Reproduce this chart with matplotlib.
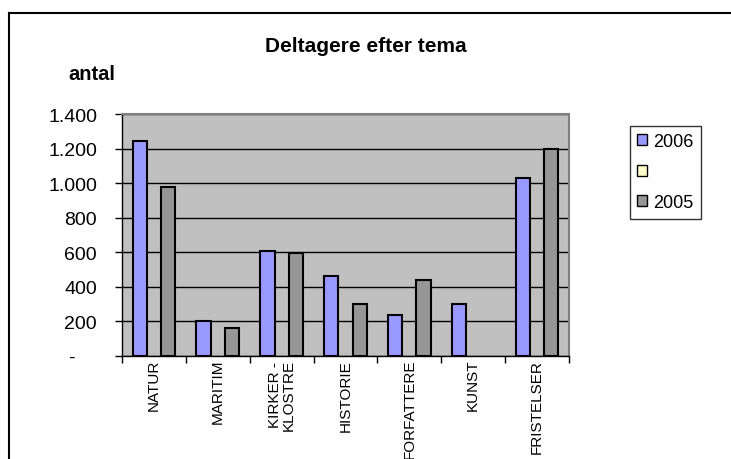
import matplotlib
matplotlib.use('Agg')
import matplotlib.pyplot as plt
import matplotlib.ticker as ticker
from matplotlib.patches import Patch
from matplotlib.lines import Line2D
import numpy as np

plt.rcParams['font.family'] = ['Liberation Sans', 'DejaVu Sans']

# data
categories = ['NATUR', 'MARITIM', 'KIRKER -\nKLOSTRE', 'HISTORIE',
              'FORFATTERE', 'KUNST', 'FRISTELSER']
series_names = ['2006', ' ', '2005']
v2006 = [1245, 205, 607, 463, 237, 300, 1030]
vblank = [0, 0, 0, 0, 0, 0, 0]
v2005 = [980, 162, 596, 300, 437, 0, 1195]
colors = ['#9999FF', '#FFFFCC', '#969696']
yticks = [0, 200, 400, 600, 800, 1000, 1200, 1400]

fig = plt.figure(figsize=(7.31, 4.60), dpi=100)
ax = fig.add_axes([122 / 731, 1 - 357 / 460, 447 / 731, 242 / 460])
ax.set_facecolor('#C0C0C0')

x = np.arange(len(categories))
w = 1 / 4.5
for k, (vals, col) in enumerate(zip([v2006, vblank, v2005], colors)):
    lws = [1.5 if v > 0 else 0 for v in vals]
    ax.bar(x + (k - 1) * w, vals, w, color=col, edgecolor='black',
           linewidth=lws, zorder=3)

ax.set_xlim(-0.5, len(categories) - 0.5)
ax.set_ylim(0, 1400)
ax.set_yticks(yticks)

def fmt(v, pos):
    if v == 0:
        return '-    '
    return '{:,.0f}'.format(v).replace(',', '.')

ax.yaxis.set_major_formatter(ticker.FuncFormatter(fmt))
ax.yaxis.grid(True, color='black', linewidth=1, zorder=1)
ax.tick_params(axis='y', direction='out', length=5, width=1,
               labelsize=14, pad=13)

ax.set_xticks(x)
ax.set_xticklabels(categories, rotation=90, fontsize=11, va='top',
                   linespacing=1.0)
ax.set_xticks(np.arange(-0.5, len(categories)), minor=True)
ax.tick_params(axis='x', which='major', length=0, pad=2)
ax.tick_params(axis='x', which='minor', direction='out', length=5, width=1)

for s in ['top', 'right']:
    ax.spines[s].set_color('#808080')
    ax.spines[s].set_linewidth(1.5)
for s in ['left', 'bottom']:
    ax.spines[s].set_color('black')
    ax.spines[s].set_linewidth(1)

fig.text(0.5, 1 - 46 / 460, 'Deltagere efter tema', ha='center', va='center',
         fontsize=15, fontweight='bold')
fig.text(68 / 731, 1 - 75 / 460, 'antal', ha='left', va='center',
         fontsize=14.5, fontweight='bold')

handles = [Patch(facecolor=c, edgecolor='black', linewidth=1) for c in colors]
leg = fig.legend(handles, series_names, loc='upper left',
                 bbox_to_anchor=(630 / 731, 1 - 127 / 460),
                 fontsize=13, frameon=True, fancybox=False,
                 handlelength=0.55, handleheight=0.55, handletextpad=0.35,
                 labelspacing=0.75, borderpad=0.4, borderaxespad=0)
leg.get_frame().set_edgecolor('black')
leg.get_frame().set_linewidth(1)

# outer chart frame (only top and left visible)
fig.add_artist(Line2D([9 / 731, 730 / 731], [1 - 14 / 460, 1 - 14 / 460],
                      color='black', linewidth=1.5))
fig.add_artist(Line2D([9 / 731, 9 / 731], [0, 1 - 14 / 460],
                      color='black', linewidth=1.5))

fig.savefig('out.png', dpi=100)
